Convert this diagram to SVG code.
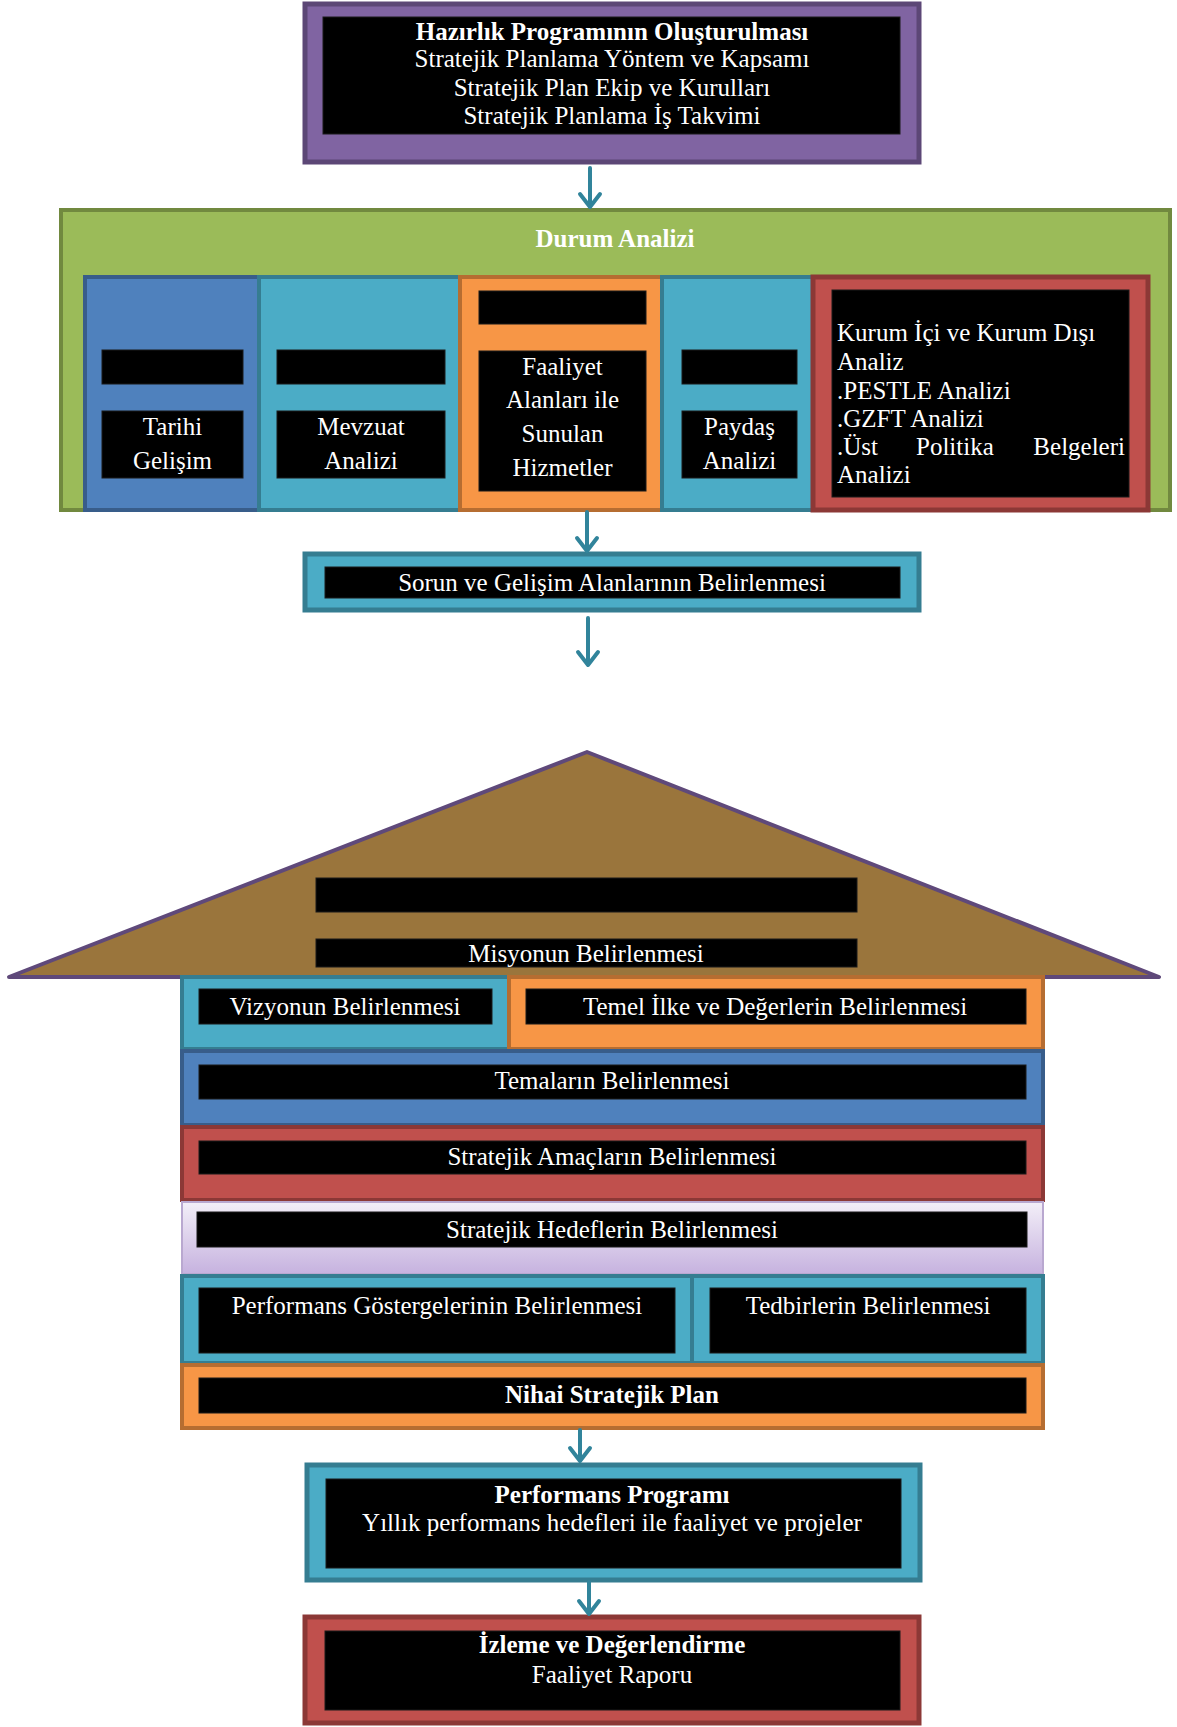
<svg xmlns="http://www.w3.org/2000/svg" width="1177" height="1727" viewBox="0 0 1177 1727">
<style>
text{font-family:"Liberation Serif","Times New Roman",serif;font-size:25px;fill:#fff;dominant-baseline:central}
.c{text-anchor:middle}
.b{font-weight:bold}
.blk{fill:#000;stroke:#1a1a1a;stroke-width:1}
.purple{fill:#8064A2;stroke:#5C4776;stroke-width:5}
.teal{fill:#4BACC6;stroke:#357D91;stroke-width:4}
.tealT{fill:#4BACC6;stroke:#357D91;stroke-width:5}
.green{fill:#9BBB59;stroke:#71893F;stroke-width:4}
.blue{fill:#4F81BD;stroke:#385D8A;stroke-width:4}
.orange{fill:#F79646;stroke:#B66D31;stroke-width:4}
.red{fill:#C0504D;stroke:#8C3836;stroke-width:4}
.redT{fill:#C0504D;stroke:#8C3836;stroke-width:5}
.arr{fill:none;stroke:#31849B;stroke-width:4;stroke-linecap:round;stroke-linejoin:round}
</style>
<defs>
<linearGradient id="lav" x1="0" y1="0" x2="0" y2="1">
<stop offset="0" stop-color="#F3EFF8"/>
<stop offset="1" stop-color="#C6B2DF"/>
</linearGradient>
</defs>

<g id="hazirlik">
<rect class="purple" x="305" y="4" width="614" height="158"/>
<rect class="blk" x="323" y="17" width="577" height="117"/>
<text class="c b" x="612" y="31">Hazırlık Programının Oluşturulması</text>
<text class="c" x="612" y="58.5">Stratejik Planlama Yöntem ve Kapsamı</text>
<text class="c" x="612" y="87">Stratejik Plan Ekip ve Kurulları</text>
<text class="c" x="612" y="115.5">Stratejik Planlama İş Takvimi</text>
</g>

<g id="durum-analizi">
<rect class="green" x="61" y="210" width="1109" height="300"/>
<text class="c b" x="615" y="238">Durum Analizi</text>
</g>

<g id="tarihi">
<rect class="blue" x="85" y="277" width="174" height="233"/>
<rect class="blk" x="102" y="350" width="141" height="34"/>
<rect class="blk" x="102" y="411" width="141" height="67"/>
<text class="c" x="172.5" y="426">Tarihi</text>
<text class="c" x="172.5" y="460">Gelişim</text>
</g>

<g id="mevzuat">
<rect class="teal" x="259" y="277" width="201" height="233"/>
<rect class="blk" x="277" y="350" width="168" height="34"/>
<rect class="blk" x="277" y="411" width="168" height="67"/>
<text class="c" x="361" y="426">Mevzuat</text>
<text class="c" x="361" y="460">Analizi</text>
</g>

<g id="faaliyet">
<rect class="orange" x="460" y="277" width="202" height="233"/>
<rect class="blk" x="479" y="291" width="167" height="33"/>
<rect class="blk" x="479" y="351" width="167" height="140"/>
<text class="c" x="562.5" y="366.5">Faaliyet</text>
<text class="c" x="562.5" y="399">Alanları ile</text>
<text class="c" x="562.5" y="433">Sunulan</text>
<text class="c" x="562.5" y="467">Hizmetler</text>
</g>

<g id="paydas">
<rect class="teal" x="662" y="277" width="151" height="233"/>
<rect class="blk" x="682" y="350" width="115" height="34"/>
<rect class="blk" x="682" y="411" width="115" height="67"/>
<text class="c" x="739.5" y="426">Paydaş</text>
<text class="c" x="739.5" y="460">Analizi</text>
</g>

<g id="kurum">
<rect class="redT" x="813" y="277" width="335" height="233"/>
<rect class="blk" x="832" y="290" width="297" height="207"/>
<text x="837" y="332.5">Kurum İçi ve Kurum Dışı</text>
<text x="837" y="361">Analiz</text>
<text x="837" y="390">.PESTLE Analizi</text>
<text x="837" y="418">.GZFT Analizi</text>
<text x="837" y="446">.Üst</text>
<text x="916" y="446">Politika</text>
<text x="1125" y="446" style="text-anchor:end">Belgeleri</text>
<text x="837" y="474">Analizi</text>
</g>

<g id="sorun">
<rect class="tealT" x="305" y="554" width="614" height="56"/>
<rect class="blk" x="325" y="567" width="575" height="31"/>
<text class="c" x="612" y="582.5">Sorun ve Gelişim Alanlarının Belirlenmesi</text>
</g>

<g id="roof">
<polygon points="587,752 1159,977 9,977" fill="#9A753C" stroke="#5F497A" stroke-width="4" stroke-linejoin="round"/>
<rect class="blk" x="316" y="878" width="541" height="34"/>
<rect class="blk" x="316" y="939" width="541" height="28"/>
<text class="c" x="586" y="953">Misyonun Belirlenmesi</text>
</g>

<g id="vizyon">
<rect class="teal" x="182" y="977" width="327" height="72"/>
<rect class="blk" x="199" y="989" width="293" height="35"/>
<text class="c" x="345" y="1006">Vizyonun Belirlenmesi</text>
</g>

<g id="temel">
<rect class="orange" x="509" y="977" width="534" height="72"/>
<rect class="blk" x="526" y="989" width="500" height="35"/>
<text class="c" x="775" y="1006">Temel İlke ve Değerlerin Belirlenmesi</text>
</g>

<g id="temalar">
<rect class="blue" x="182" y="1051" width="861" height="74"/>
<rect class="blk" x="199" y="1065" width="827" height="34"/>
<text class="c" x="612" y="1080">Temaların Belirlenmesi</text>
</g>

<g id="amaclar">
<rect class="red" x="182" y="1127" width="861" height="73"/>
<rect class="blk" x="199" y="1141" width="827" height="33"/>
<text class="c" x="612" y="1156">Stratejik Amaçların Belirlenmesi</text>
</g>

<g id="hedefler">
<rect x="182" y="1202" width="861" height="72" fill="url(#lav)" stroke="#B9A8D0" stroke-width="2"/>
<rect class="blk" x="197" y="1212" width="830" height="35"/>
<text class="c" x="612" y="1229">Stratejik Hedeflerin Belirlenmesi</text>
</g>

<g id="gostergeler">
<rect class="teal" x="182" y="1276" width="510" height="87"/>
<rect class="blk" x="199" y="1288" width="476" height="65"/>
<text class="c" x="437" y="1305">Performans Göstergelerinin Belirlenmesi</text>
</g>

<g id="tedbirler">
<rect class="teal" x="692" y="1276" width="351" height="87"/>
<rect class="blk" x="710" y="1288" width="316" height="65"/>
<text class="c" x="868" y="1305">Tedbirlerin Belirlenmesi</text>
</g>

<g id="nihai">
<rect class="orange" x="182" y="1365" width="861" height="63"/>
<rect class="blk" x="199" y="1378" width="827" height="35"/>
<text class="c b" x="612" y="1394">Nihai Stratejik Plan</text>
</g>

<g id="performans-programi">
<rect class="tealT" x="307" y="1465" width="613" height="115"/>
<rect class="blk" x="326" y="1479" width="575" height="89"/>
<text class="c b" x="612" y="1494">Performans Programı</text>
<text class="c" x="612" y="1522">Yıllık performans hedefleri ile faaliyet ve projeler</text>
</g>

<g id="izleme">
<rect class="redT" x="305" y="1617" width="614" height="106"/>
<rect class="blk" x="325" y="1631" width="575" height="79"/>
<text class="c b" x="612" y="1644">İzleme ve Değerlendirme</text>
<text class="c" x="612" y="1674">Faaliyet Raporu</text>
</g>

<g id="connectors">
<path class="arr" d="M590,168 V207 M580,194 L590,207 L600,194"/>
<path class="arr" d="M587,512 V551 M577,538 L587,551 L597,538"/>
<path class="arr" d="M588,618 V665 M578,652 L588,665 L598,652"/>
<path class="arr" d="M580,1430 V1461 M570,1448 L580,1461 L590,1448"/>
<path class="arr" d="M589,1582 V1614 M579,1601 L589,1614 L599,1601"/>
</g>
</svg>
